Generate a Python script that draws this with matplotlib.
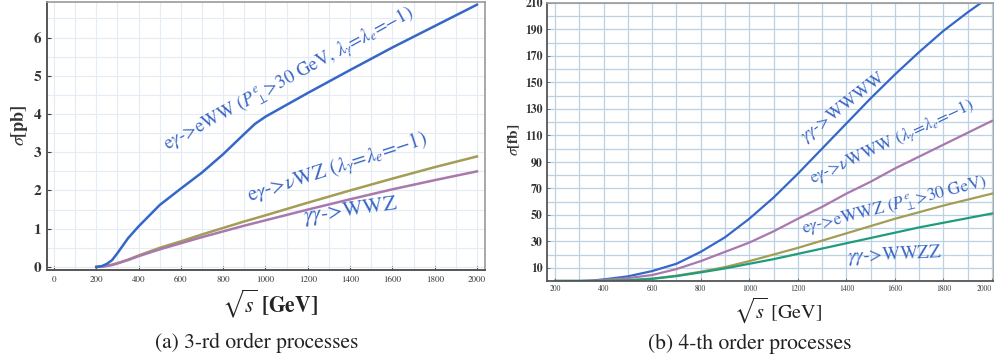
import numpy as np
import matplotlib
matplotlib.use("Agg")
import matplotlib.pyplot as plt
from matplotlib.ticker import MultipleLocator, FixedLocator

plt.rcParams['font.family'] = ['STIXGeneral', 'DejaVu Serif']
plt.rcParams['mathtext.fontset'] = 'stix'

# ---------------- data ----------------
# (a) 3-rd order processes  [pb]
sqrt_s_a = [200, 225, 250, 275, 300, 350, 400, 450, 500, 600, 700, 800, 900, 950, 1000, 1200, 1400, 1600, 1800, 2000]
sigma_eWW = [0.0, 0.02, 0.08, 0.18, 0.36, 0.75, 1.06, 1.34, 1.62, 2.05, 2.47, 2.95, 3.48, 3.74, 3.93, 4.55, 5.15, 5.74, 6.30, 6.86]
sigma_nuWZ = [0.0, 0.01, 0.03, 0.06, 0.10, 0.19, 0.30, 0.40, 0.50, 0.67, 0.85, 1.02, 1.19, 1.27, 1.35, 1.68, 2.00, 2.31, 2.61, 2.89]
sigma_WWZ = [0.0, 0.01, 0.025, 0.05, 0.09, 0.18, 0.28, 0.37, 0.46, 0.62, 0.78, 0.93, 1.08, 1.15, 1.22, 1.50, 1.77, 2.03, 2.27, 2.50]

# (b) 4-th order processes  [fb]
sqrt_s_b = [200, 300, 350, 400, 500, 600, 700, 800, 900, 1000, 1100, 1200, 1300, 1400, 1500, 1600, 1700, 1800, 1900, 2000]
sigma_WWWW = [0, 0, 0.3, 1.2, 3.5, 7.5, 13, 22, 33, 47, 63, 81, 100, 119, 138, 156, 173, 189, 203, 216]
sigma_nuWWW = [0, 0, 0.2, 0.8, 2.2, 4.5, 9, 15, 22, 29, 37.5, 47, 56, 66, 75, 85, 94, 103, 112, 121]
sigma_eWWZ = [0, 0, 0, 0.1, 0.6, 1.8, 4.0, 7.0, 10.5, 15, 20, 25, 30.5, 36, 41.5, 47, 52, 57, 61.5, 66]
sigma_WWZZ = [0, 0, 0, 0.1, 0.5, 1.6, 3.7, 6.5, 9.5, 13, 16.5, 20.5, 24.5, 28.5, 32.5, 36.5, 40.5, 44, 47.5, 51]

xticks_a = [0, 200, 400, 600, 800, 1000, 1200, 1400, 1600, 1800, 2000]
yticks_a = [0, 1, 2, 3, 4, 5, 6]
xticks_b = [200, 400, 600, 800, 1000, 1200, 1400, 1600, 1800, 2000]
yticks_b = [10, 30, 50, 70, 90, 110, 130, 150, 170, 190, 210]

c_blue = '#3567c9'
c_purple = '#a878ae'
c_olive = '#a39d55'
c_green = '#1f9c7c'
c_text = '#3a66c6'

W, H = 995, 360
fig = plt.figure(figsize=(W / 100, H / 100), dpi=100)

def px_axes(x0, y0, x1, y1):
    return fig.add_axes([x0 / W, 1 - y1 / H, (x1 - x0) / W, (y1 - y0) / H])

# ---------------- panel (a) ----------------
ax1 = px_axes(47, 2, 485, 270)
ax1.set_xlim(-33, 2038)
ax1.set_ylim(-0.08, 6.93)
ax1.xaxis.set_minor_locator(MultipleLocator(100))
ax1.yaxis.set_minor_locator(MultipleLocator(0.5))
ax1.grid(True, which='both', color='#e3ecf4', lw=0.8)
ax1.set_axisbelow(True)
ax1.plot(sqrt_s_a, sigma_nuWZ, color=c_olive, lw=1.8)
ax1.plot(sqrt_s_a, sigma_WWZ, color=c_purple, lw=1.8)
ax1.plot(sqrt_s_a, sigma_eWW, color=c_blue, lw=1.8)
ax1.xaxis.set_major_locator(FixedLocator(xticks_a))
ax1.yaxis.set_major_locator(FixedLocator(yticks_a))
ax1.set_xticklabels([str(v) for v in xticks_a], fontsize=6.5, color='#333333')
ax1.set_yticklabels([str(v) for v in yticks_a], fontsize=11, fontweight='bold', color='#333333')
ax1.tick_params(which='major', direction='in', length=3, width=0.8, color='#444444', pad=4)
ax1.tick_params(which='minor', length=0)
for s in ['left', 'bottom']:
    ax1.spines[s].set_color('#555555')
    ax1.spines[s].set_linewidth(1.4)
for s in ['top', 'right']:
    ax1.spines[s].set_color('#999999')
    ax1.spines[s].set_linewidth(1.2)

ax1.text(534, 3.06, r'e$\gamma$->eWW ($P^{e}_{\perp}$>30 GeV, $\lambda_{\gamma}$=$\lambda_{e}$=$-$1)',
         color=c_text, fontsize=13.5, rotation=28.5, rotation_mode='anchor', ha='left', va='baseline')
ax1.text(927, 1.70, r'e$\gamma$->$\nu$WZ ($\lambda_{\gamma}$=$\lambda_{e}$=$-$1)',
         color=c_text, fontsize=15, rotation=18, rotation_mode='anchor', ha='left', va='baseline')
ax1.text(1180, 1.17, r'$\gamma\gamma$->WWZ',
         color=c_text, fontsize=15.5, rotation=8, rotation_mode='anchor', ha='left', va='baseline')

fig.text(20 / W, 1 - 125 / H, r'$\sigma$[pb]', rotation=90, ha='center', va='center',
         fontsize=13, fontweight='bold', color='#333333')
fig.text(270 / W, 1 - 304 / H, r'$\sqrt{s}$ [GeV]', ha='center', va='center', fontsize=15.5,
         fontweight='bold', color='#222222')
fig.text(257 / W, 1 - 343 / H, '(a) 3-rd order processes', ha='center', va='center', fontsize=15.5,
         color='#222222')

# ---------------- panel (b) ----------------
ax2 = px_axes(547, 3, 994, 281)
ax2.set_xlim(167, 2008)
ax2.set_ylim(0, 210)
ax2.xaxis.set_minor_locator(MultipleLocator(100))
ax2.yaxis.set_minor_locator(MultipleLocator(10))
ax2.grid(True, which='both', color='#bcd2e2', lw=0.9)
ax2.set_axisbelow(True)
ax2.plot(sqrt_s_b, sigma_WWWW, color=c_blue, lw=1.6)
ax2.plot(sqrt_s_b, sigma_nuWWW, color=c_purple, lw=1.6)
ax2.plot(sqrt_s_b, sigma_eWWZ, color=c_olive, lw=1.6)
ax2.plot(sqrt_s_b, sigma_WWZZ, color=c_green, lw=1.6)
ax2.xaxis.set_major_locator(FixedLocator(xticks_b))
ax2.yaxis.set_major_locator(FixedLocator(yticks_b))
ax2.set_xticklabels([str(v) for v in xticks_b], fontsize=5.5, color='#333333')
ax2.get_xticklabels()[-1].set_horizontalalignment('right')
ax2.set_yticklabels([str(v) for v in yticks_b], fontsize=8.5, fontweight='bold', color='#333333')
ax2.tick_params(which='major', direction='in', length=2, width=0.6, color='#666666', pad=3)
ax2.tick_params(which='minor', length=0)
for s in ['left', 'bottom']:
    ax2.spines[s].set_color('#555555')
    ax2.spines[s].set_linewidth(1.3)
for s in ['top', 'right']:
    ax2.spines[s].set_color('#999999')
    ax2.spines[s].set_linewidth(1.2)

ax2.text(1230, 105, r'$\gamma\gamma$->WWWW', color=c_text, fontsize=13, rotation=38,
         rotation_mode='anchor', ha='left', va='baseline')
ax2.text(1258, 74, r'e$\gamma$->$\nu$WWW ($\lambda_{\gamma}$=$\lambda_{e}$=$-$1)', color=c_text,
         fontsize=12.5, rotation=25, rotation_mode='anchor', ha='left', va='baseline')
ax2.text(1221, 36, r'e$\gamma$->eWWZ ($P^{e}_{\perp}$>30 GeV)', color=c_text, fontsize=12.5,
         rotation=14.5, rotation_mode='anchor', ha='left', va='baseline')
ax2.text(1407, 14, r'$\gamma\gamma$->WWZZ', color=c_text, fontsize=13.5, rotation=3,
         rotation_mode='anchor', ha='left', va='baseline')

fig.text(514 / W, 1 - 140 / H, r'$\sigma$[fb]', rotation=90, ha='center', va='center',
         fontsize=11, fontweight='bold', color='#333333')
fig.text(778 / W, 1 - 310 / H, r'$\sqrt{s}$ [GeV]', ha='center', va='center', fontsize=14.5,
         color='#222222')
fig.text(750 / W, 1 - 344 / H, '(b) 4-th order processes', ha='center', va='center', fontsize=15.5,
         color='#222222')

fig.savefig('out.png', dpi=100)
